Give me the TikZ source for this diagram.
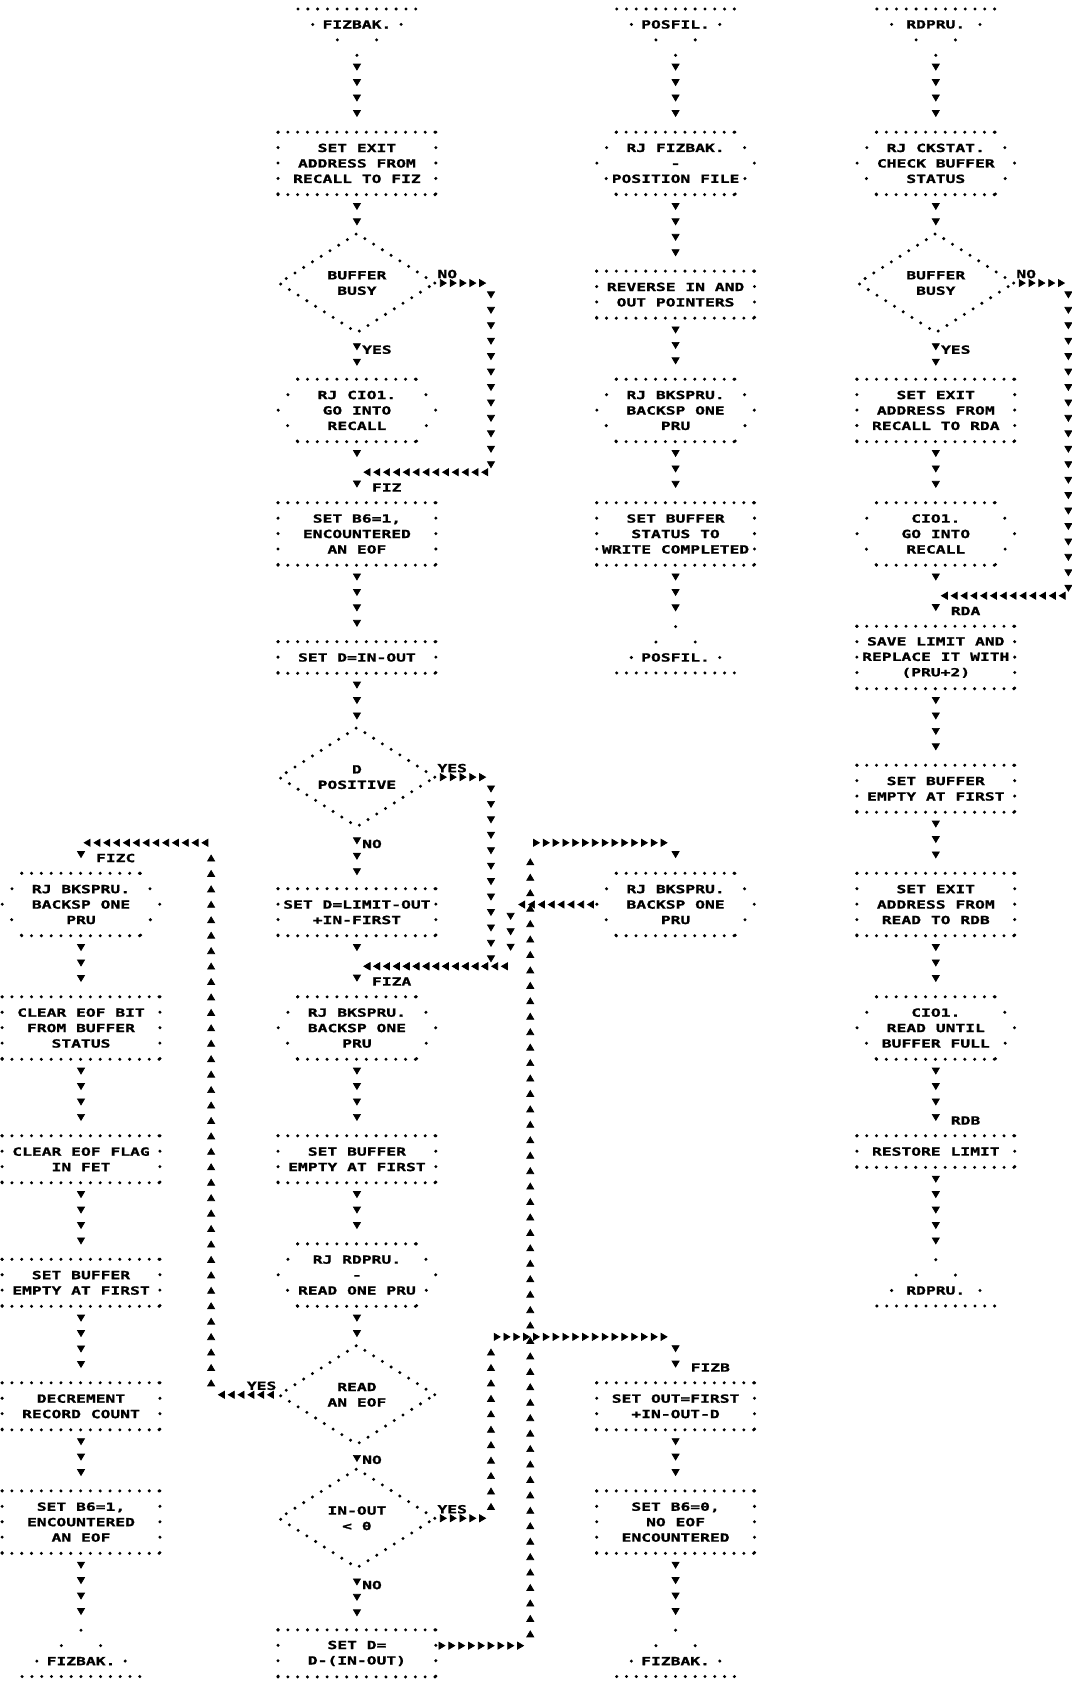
\documentclass[tikz,border=0pt]{standalone}
\usepackage{fontspec}
\usetikzlibrary{arrows.meta,positioning,shapes.geometric,calc,decorations.markings}
\newfontfamily\lpfont[FakeStretch=1.45,FakeBold=1.2]{DejaVu Sans Mono}
\newcommand{\lpf}{\lpfont\bfseries\fontsize{6.4}{8.79}\selectfont}
\newlength{\colw}\setlength{\colw}{0.1964cm}
\newlength{\rowh}\setlength{\rowh}{0.3088cm}

\begin{document}
\begin{tikzpicture}[
  x=\colw, y=-\rowh,
  every node/.style={font=\lpf},
  hdots/.style={line width=1.9pt,line cap=round,dash pattern=on 0pt off 0.1962cm},
  vdots/.style={line width=1.9pt,line cap=round,dash pattern=on 0pt off 0.3085cm},
  sdots/.style={line width=1.9pt,line cap=round,dash pattern=on 0pt off 0.3655cm},
  proc/.style={minimum width=16\colw,minimum height=#1\rowh,inner sep=0pt,align=center},
  call/.style={minimum width=16\colw,minimum height=4\rowh,inner sep=0pt,align=center},
  decision/.style={diamond,draw,line width=1.9pt,line cap=round,
                   dash pattern=on 0pt off 0.2071cm,aspect=1.6,
                   minimum width=16\colw,minimum height=6.5\rowh,inner sep=0pt,align=center},
  trm/.style={inner sep=0pt},
  lbl/.style={inner sep=0pt},
  vflow/.style={decorate,decoration={markings,
      mark=between positions 0.3088cm and -0.06cm step 0.3088cm
      with {\arrow{Triangle[length=4pt,width=4.6pt]}}}},
  hflow/.style={decorate,decoration={markings,
      mark=between positions 0.1964cm and -0.04cm step 0.1964cm
      with {\arrow{Triangle[length=4pt,width=4.6pt]}}}},
  ]

  \path[use as bounding box,fill=white] (0,-0.583) rectangle (109.16,108.29);

  %─── FIZBAK: middle column ─────────────────────────────────────────────────
  \node[trm] (fizbak) at (36.35,1) {FIZBAK.};
  \node[proc=4] (setexit) at (36.35,10) {SET EXIT\\ADDRESS FROM\\RECALL TO FIZ};
  \node[decision] (busy) at (36.35,17.75) {BUFFER\\BUSY};
  \node[call] (cio) at (36.35,26) {RJ CIO1.\\GO INTO\\RECALL};
  \node[proc=4] (seteof) at (36.35,34) {SET B6=1,\\ENCOUNTERED\\AN EOF};
  \node[proc=2] (setd) at (36.35,42) {SET D=IN-OUT};
  \node[decision] (dpos) at (36.35,49.75) {D\\POSITIVE};
  \node[proc=3] (setlim) at (36.35,58.5) {SET D=LIMIT-OUT\\+IN-FIRST};
  \node[call] (bksp) at (36.35,66) {RJ BKSPRU.\\BACKSP ONE\\PRU};
  \node[proc=3] (setbuf) at (36.35,74.5) {SET BUFFER\\EMPTY AT FIRST};
  \node[call] (rdone) at (36.35,82) {RJ RDPRU.\\-\\READ ONE PRU};
  \node[decision] (readeof) at (36.35,89.75) {READ\\AN EOF};
  \node[decision] (inout) at (36.35,97.75) {IN-OUT\\< 0};
  \node[proc=3] (newd) at (36.35,106.5) {SET D=\\D-(IN-OUT)};

  %─── FIZBAK: branch boxes right of the middle column ───────────────────────
  \node[call] (bksp2) at (68.8,58) {RJ BKSPRU.\\BACKSP ONE\\PRU};
  \node[proc=3] (setout) at (68.8,90.5) {SET OUT=FIRST\\+IN-OUT-D};
  \node[proc=4] (noeof) at (68.8,98) {SET B6=0,\\NO EOF\\ENCOUNTERED};
  \node[trm] (endb) at (68.8,107) {FIZBAK.};

  %─── FIZBAK: left column (FIZC) ────────────────────────────────────────────
  \node[call] (bksp3) at (8.25,58) {RJ BKSPRU.\\BACKSP ONE\\PRU};
  \node[proc=4] (clrbit) at (8.25,66) {CLEAR EOF BIT\\FROM BUFFER\\STATUS};
  \node[proc=3] (clrflag) at (8.25,74.5) {CLEAR EOF FLAG\\IN FET};
  \node[proc=3] (lsetbuf) at (8.25,82.5) {SET BUFFER\\EMPTY AT FIRST};
  \node[proc=3] (decrec) at (8.25,90.5) {DECREMENT\\RECORD COUNT};
  \node[proc=4] (lseteof) at (8.25,98) {SET B6=1,\\ENCOUNTERED\\AN EOF};
  \node[trm] (endc) at (8.25,107) {FIZBAK.};

  %─── POSFIL ─────────────────────────────────────────────────────────────────
  \node[trm] (posfil) at (68.8,1) {POSFIL.};
  \node[call] (posfb) at (68.8,10) {RJ FIZBAK.\\-\\POSITION FILE};
  \node[proc=3] (revptr) at (68.8,18.5) {REVERSE IN AND\\OUT POINTERS};
  \node[call] (posbk) at (68.8,26) {RJ BKSPRU.\\BACKSP ONE\\PRU};
  \node[proc=4] (wrstat) at (68.8,34) {SET BUFFER\\STATUS TO\\WRITE COMPLETED};
  \node[trm] (posend) at (68.8,42) {POSFIL.};

  %─── RDPRU ──────────────────────────────────────────────────────────────────
  \node[trm] (rdpru) at (95.3,1) {RDPRU.};
  \node[call] (ckstat) at (95.3,10) {RJ CKSTAT.\\CHECK BUFFER\\STATUS};
  \node[decision] (rbusy) at (95.3,17.75) {BUFFER\\BUSY};
  \node[proc=4] (rexit) at (95.3,26) {SET EXIT\\ADDRESS FROM\\RECALL TO RDA};
  \node[call] (rcio) at (95.3,34) {CIO1.\\GO INTO\\RECALL};
  \node[proc=4] (savlim) at (95.3,42) {SAVE LIMIT AND\\REPLACE IT WITH\\(PRU+2)};
  \node[proc=3] (rsetbuf) at (95.3,50.5) {SET BUFFER\\EMPTY AT FIRST};
  \node[proc=4] (rdbexit) at (95.3,58) {SET EXIT\\ADDRESS FROM\\READ TO RDB};
  \node[call] (rdfull) at (95.3,66) {CIO1.\\READ UNTIL\\BUFFER FULL};
  \node[proc=2] (restlim) at (95.3,74) {RESTORE LIMIT};
  \node[trm] (rdend) at (95.3,83) {RDPRU.};

  %─── dotted outlines ───────────────────────────────────────────────────────
  \foreach \bx in {setexit,seteof,setd,setlim,setbuf,newd,setout,noeof,
                   clrbit,clrflag,lsetbuf,decrec,lseteof,revptr,wrstat,
                   rexit,savlim,rsetbuf,rdbexit,restlim}{
    \draw[hdots] (\bx.north west) -- (\bx.north east)
                 (\bx.south west) -- (\bx.south east);
    \draw[vdots] (\bx.north west) -- (\bx.south west)
                 (\bx.north east) -- (\bx.south east);
  }
  \foreach \bx in {cio,bksp,rdone,bksp2,bksp3,posfb,posbk,ckstat,rcio,rdfull}{
    \draw[hdots] ($(\bx.north west)+(2,0)$) -- ($(\bx.north east)+(-2,0)$)
                 ($(\bx.south west)+(2,0)$) -- ($(\bx.south east)+(-2,0)$);
    \draw[sdots] ($(\bx.north west)+(2,0)$) -- (\bx.west) -- ($(\bx.south west)+(2,0)$)
                 ($(\bx.north east)+(-2,0)$) -- (\bx.east) -- ($(\bx.south east)+(-2,0)$);
  }
  % entry terminals
  \foreach \tm in {fizbak,posfil,rdpru}{
    \draw[hdots] ($(\tm)+(-6,-1)$) -- ($(\tm)+(6,-1)$);
    \foreach \dx/\dy in {-4.5/0,4.5/0,-2/1,2/1,0/2}
      \fill ($(\tm)+(\dx,\dy)$) circle[radius=0.95pt];
  }
  % exit terminals
  \foreach \tm in {posend,rdend,endb,endc}{
    \draw[hdots] ($(\tm)+(-6,1)$) -- ($(\tm)+(6,1)$);
    \foreach \dx/\dy in {-4.5/0,4.5/0,-2/-1,2/-1,0/-2}
      \fill ($(\tm)+(\dx,\dy)$) circle[radius=0.95pt];
  }

  %─── junctions and corners ─────────────────────────────────────────────────
  \coordinate (fizbak-o) at (36.35,3);
  \coordinate (posfil-o) at (68.8,3);
  \coordinate (rdpru-o) at (95.3,3);
  \coordinate (posend-i) at (68.8,40);
  \coordinate (rdend-i) at (95.3,81);
  \coordinate (endb-i) at (68.8,105);
  \coordinate (endc-i) at (8.25,105);
  \coordinate (fiz) at (36.35,30);
  \coordinate (fiza) at (36.35,62);
  \coordinate (fizb) at (68.8,86);
  \coordinate (fizc) at (8.25,54);
  \coordinate (rda) at (95.3,38);
  \coordinate (busyno) at (50,17.75);
  \coordinate (busydn) at (50,30);
  \coordinate (posyes) at (50,49.75);
  \coordinate (posdn) at (50,62);
  \coordinate (bkleft) at (52,58);
  \coordinate (bkdn) at (52,62);
  \coordinate (dup) at (54,106);
  \coordinate (dtop) at (54,54);
  \coordinate (bktop) at (68.8,54);
  \coordinate (ltyes) at (50,97.75);
  \coordinate (ltup) at (50,86);
  \coordinate (eofyes) at (21.5,89.75);
  \coordinate (eofup) at (21.5,54);
  \coordinate (rbusyno) at (108.8,17.75);
  \coordinate (rbusydn) at (108.8,38);

  %─── FIZBAK flow ───────────────────────────────────────────────────────────
  \draw[vflow] (fizbak-o) -- (setexit);
  \draw[vflow] (setexit) -- (busy);
  \draw[vflow] (busy) -- node[pos=0.333,lbl,right=0.5\colw] {YES} (cio);
  \draw[hflow] (busy) -- node[at start,lbl,above right=2.5pt and 0pt] {NO} (busyno);
  \draw[vflow] (busyno) -- (busydn);
  \draw[hflow] (busydn) -- (fiz);
  \draw[vflow] (cio) -- (fiz);
  \draw[vflow] (fiz) -- node[midway,lbl,right=1.5\colw] {FIZ} (seteof);
  \draw[vflow] (seteof) -- (setd);
  \draw[vflow] (setd) -- (dpos);
  \draw[vflow] (dpos) -- node[pos=0.25,lbl,right=0.5\colw] {NO} (setlim);
  \draw[hflow] (dpos) -- node[at start,lbl,above right=2.5pt and 0pt] {YES} (posyes);
  \draw[vflow] (posyes) -- (posdn);
  \draw[hflow] (posdn) -- (fiza);
  \draw[vflow] (setlim) -- (fiza);
  \draw[vflow] (fiza) -- node[midway,lbl,right=1.5\colw] {FIZA} (bksp);
  \draw[vflow] (bksp) -- (setbuf);
  \draw[vflow] (setbuf) -- (rdone);
  \draw[vflow] (rdone) -- (readeof);
  \draw[vflow] (readeof) -- node[pos=0.667,lbl,right=0.5\colw] {NO} (inout);
  \draw[vflow] (inout) -- node[pos=0.25,lbl,right=0.5\colw] {NO} (newd);

  % READ AN EOF -> FIZC
  \draw[hflow] (readeof) -- node[at start,lbl,above left=2.5pt and 0pt] {YES} (eofyes);
  \draw[vflow] (eofyes) -- (eofup);
  \draw[hflow] (eofup) -- (fizc);
  \draw[vflow] (fizc) -- node[midway,lbl,right=1.5\colw] {FIZC} (bksp3);
  \draw[vflow] (bksp3) -- (clrbit);
  \draw[vflow] (clrbit) -- (clrflag);
  \draw[vflow] (clrflag) -- (lsetbuf);
  \draw[vflow] (lsetbuf) -- (decrec);
  \draw[vflow] (decrec) -- (lseteof);
  \draw[vflow] (lseteof) -- (endc-i);

  % IN-OUT < 0 -> FIZB
  \draw[hflow] (inout) -- node[at start,lbl,above right=2.5pt and 0pt] {YES} (ltyes);
  \draw[vflow] (ltyes) -- (ltup);
  \draw[hflow] (ltup) -- (fizb);
  \draw[vflow] (fizb) -- node[pos=0.667,lbl,right=1.5\colw] {FIZB} (setout);
  \draw[vflow] (setout) -- (noeof);
  \draw[vflow] (noeof) -- (endb-i);

  % SET D=D-(IN-OUT) -> backspace -> FIZA
  \draw[hflow] ([yshift=0.5\rowh]newd.east) -- (dup);
  \draw[vflow] (dup) -- (dtop);
  \draw[hflow] (dtop) -- (bktop);
  \draw[vflow] (bktop) -- (bksp2);
  \draw[hflow] (bksp2) -- (bkleft);
  \draw[vflow] (bkleft) -- (bkdn);
  \draw[hflow] (bkdn) -- (fiza);

  %─── POSFIL flow ───────────────────────────────────────────────────────────
  \draw[vflow] (posfil-o) -- (posfb);
  \draw[vflow] (posfb) -- (revptr);
  \draw[vflow] (revptr) -- (posbk);
  \draw[vflow] (posbk) -- (wrstat);
  \draw[vflow] (wrstat) -- (posend-i);

  %─── RDPRU flow ────────────────────────────────────────────────────────────
  \draw[vflow] (rdpru-o) -- (ckstat);
  \draw[vflow] (ckstat) -- (rbusy);
  \draw[vflow] (rbusy) -- node[pos=0.333,lbl,right=0.5\colw] {YES} (rexit);
  \draw[hflow] (rbusy) -- node[at start,lbl,above right=2.5pt and 0pt] {NO} (rbusyno);
  \draw[vflow] (rbusyno) -- (rbusydn);
  \draw[hflow] (rbusydn) -- (rda);
  \draw[vflow] (rexit) -- (rcio);
  \draw[vflow] (rcio) -- (rda);
  \draw[vflow] (rda) -- node[midway,lbl,right=1.5\colw] {RDA} (savlim);
  \draw[vflow] (savlim) -- (rsetbuf);
  \draw[vflow] (rsetbuf) -- (rdbexit);
  \draw[vflow] (rdbexit) -- (rdfull);
  \draw[vflow] (rdfull) -- node[pos=0.8,lbl,right=1.5\colw] {RDB} (restlim);
  \draw[vflow] (restlim) -- (rdend-i);

\end{tikzpicture}
\end{document}
